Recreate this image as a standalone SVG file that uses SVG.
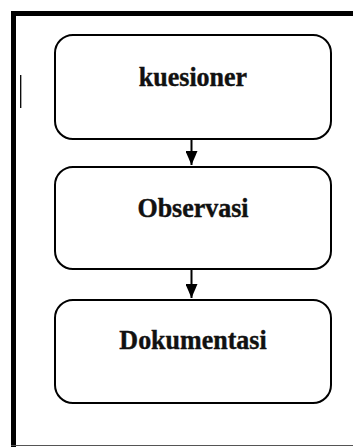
<svg xmlns="http://www.w3.org/2000/svg" width="353" height="447" viewBox="0 0 353 447">
<defs>
<style>
.box{fill:#fff;stroke:#000;stroke-width:2}
.lbl{font-family:"Liberation Serif","Times New Roman",serif;font-weight:bold;font-size:26px;fill:#111;stroke:#111;stroke-width:0.4;text-anchor:middle}
.conn{stroke:#000;stroke-width:2;fill:none}
</style>
<marker id="ah" viewBox="0 0 14 12" refX="14" refY="6" markerWidth="14" markerHeight="12" markerUnits="userSpaceOnUse" orient="auto">
<path d="M0,0 L14,6 L0,12 Z" fill="#000"/>
</marker>
</defs>
<rect width="353" height="447" fill="#fff"/>
<g id="frame">
<path d="M13.5,447 V13.5 H353" fill="none" stroke="#000" stroke-width="5"/>
<line x1="11" y1="445.5" x2="353" y2="445.5" stroke="#555" stroke-width="1.2"/>
<line x1="20.7" y1="75" x2="20.7" y2="108" stroke="#000" stroke-width="1.3"/>
</g>
<g id="node-kuesioner">
<rect class="box" x="55" y="35" width="276" height="104" rx="18"/>
<text class="lbl" transform="translate(193,86) scale(1,1.08)">kuesioner</text>
</g>
<g id="node-observasi">
<rect class="box" x="55" y="167" width="276" height="102" rx="18"/>
<text class="lbl" transform="translate(193,217) scale(1,1.08)">Observasi</text>
</g>
<g id="node-dokumentasi">
<rect class="box" x="55" y="300" width="276" height="103" rx="18"/>
<text class="lbl" transform="translate(193,349) scale(1,1.08)">Dokumentasi</text>
</g>
<g id="connectors">
<line class="conn" x1="191.5" y1="139" x2="191.5" y2="165" marker-end="url(#ah)"/>
<line class="conn" x1="191.5" y1="269" x2="191.5" y2="298" marker-end="url(#ah)"/>
</g>
</svg>
